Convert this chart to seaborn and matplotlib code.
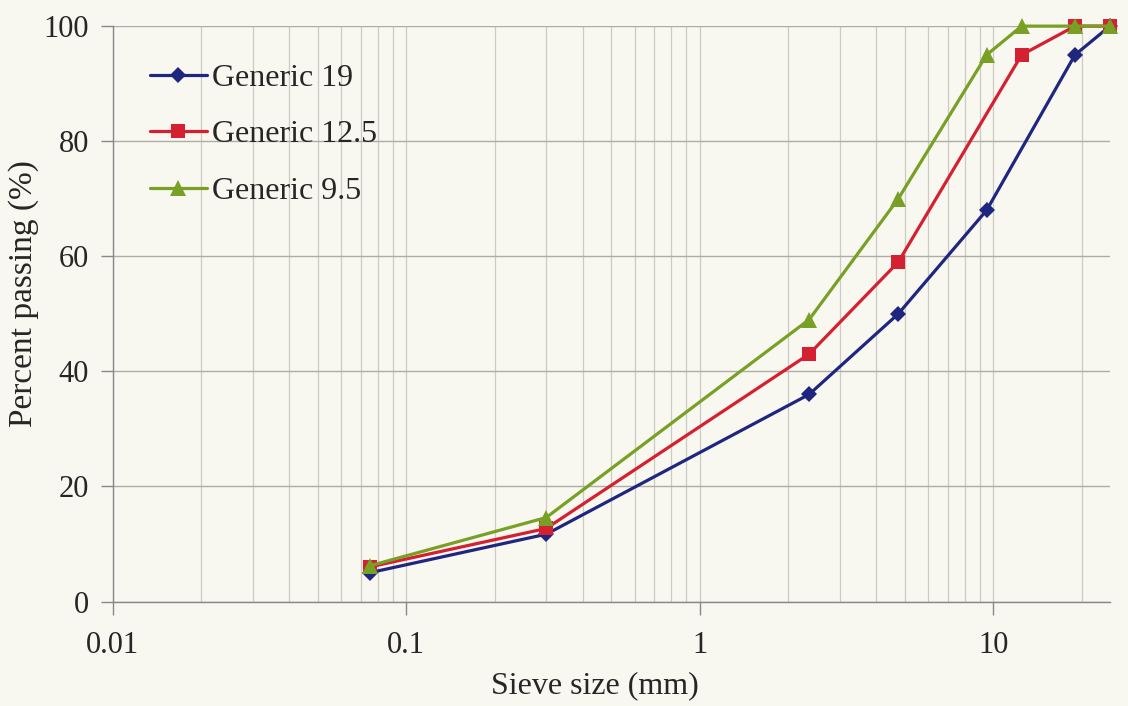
import numpy as np
import pandas as pd
import matplotlib
matplotlib.use("Agg")
import matplotlib.pyplot as plt
import seaborn as sns
from matplotlib.ticker import LogLocator, FixedLocator, NullFormatter

sieve_sizes = [0.075, 0.3, 2.36, 4.75, 9.5, 12.5, 19, 25]
generic_19 = [5.0, 11.7, 36, 50, 68, np.nan, 95, 100]
generic_12_5 = [6.0, 12.7, 43, 59, np.nan, 95, 100, 100]
generic_9_5 = [6.2, 14.6, 49, 70, 95, 100, 100, 100]
series_names = ["Generic 19", "Generic 12.5", "Generic 9.5"]
x_tick_labels = ["0.01", "0.1", "1", "10"]
y_ticks = [0, 20, 40, 60, 80, 100]

rows = []
for name, vals in zip(series_names, [generic_19, generic_12_5, generic_9_5]):
    for s, v in zip(sieve_sizes, vals):
        rows.append({"Sieve": s, "Pass": v, "Series": name})
df = pd.DataFrame(rows).dropna()

sns.set_theme(style="white")
plt.rcParams["font.family"] = ["Liberation Serif", "DejaVu Serif"]

bg = "#f8f7f0"
fig = plt.figure(figsize=(11.28, 7.06), dpi=100, facecolor=bg)
ax = fig.add_axes([0.100, 0.148, 0.884, 0.815], facecolor=bg)

palette = {"Generic 19": "#1f2680", "Generic 12.5": "#d42030", "Generic 9.5": "#78a024"}
markers = {"Generic 19": "D", "Generic 12.5": "s", "Generic 9.5": "^"}
msize = {"Generic 19": 8.5, "Generic 12.5": 10, "Generic 9.5": 12}

sns.lineplot(data=df, x="Sieve", y="Pass", hue="Series", style="Series",
             palette=palette, markers=markers, dashes=False, sort=False,
             linewidth=2.3, markersize=10, markeredgewidth=0, ax=ax,
             hue_order=series_names, style_order=series_names)

for line, name in zip(ax.lines, series_names):
    line.set_markersize(msize[name])
    line.set_clip_on(False)
    line.set_zorder(5)

ax.set_xscale("log")
ax.set_xlim(0.01, 25)
ax.set_ylim(0, 100)
ax.xaxis.set_major_locator(FixedLocator([0.01, 0.1, 1, 10]))
ax.set_xticklabels(x_tick_labels)
ax.xaxis.set_minor_locator(LogLocator(base=10, subs=np.arange(2, 10), numticks=20))
ax.xaxis.set_minor_formatter(NullFormatter())
ax.set_yticks(y_ticks)

ax.grid(True, which="major", axis="y", color="#adada5", linewidth=1.0)
ax.grid(True, which="both", axis="x", color="#cbcbc3", linewidth=0.9)
ax.tick_params(axis="x", which="major", direction="out", length=9, width=1, color="#888888",
               labelsize=22, pad=12, bottom=True)
ax.tick_params(axis="x", which="minor", length=0)
ax.tick_params(axis="y", which="major", direction="out", length=9, width=1, color="#888888",
               labelsize=22, pad=8, left=True)

for side in ["top", "right"]:
    ax.spines[side].set_visible(False)
for side in ["left", "bottom"]:
    ax.spines[side].set_color("#888888")
    ax.spines[side].set_linewidth(1.0)

ax.set_xlabel("Sieve size (mm)", fontsize=23)
ax.set_ylabel("Percent passing (%)", fontsize=24)
ax.xaxis.set_label_coords(0.483, -0.122)
ax.yaxis.set_label_coords(-0.074, 0.535)

leg = ax.legend(loc="upper left", bbox_to_anchor=(0.008, 0.985), frameon=False,
                fontsize=23, handlelength=1.8, handletextpad=0.15, labelspacing=0.85)
for h, name in zip(leg.legend_handles, series_names):
    h.set_linewidth(2.3)
    h.set_markersize(msize[name])

fig.savefig("out.png", dpi=100, facecolor=bg)
